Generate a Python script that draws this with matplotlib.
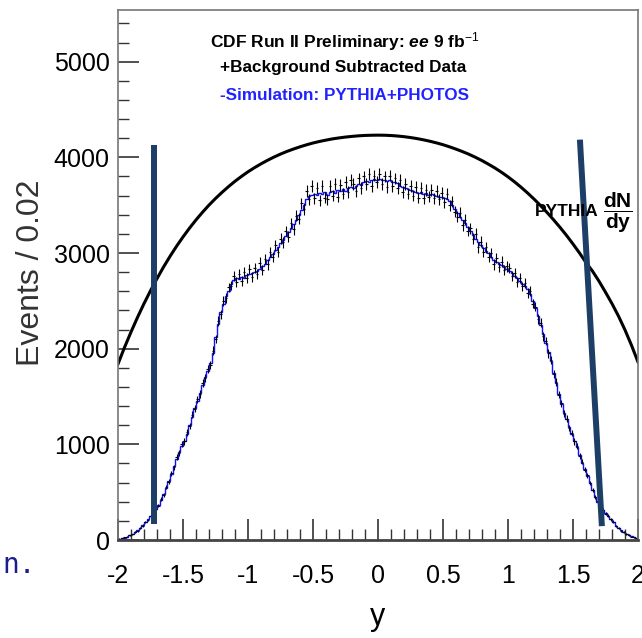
import numpy as np
import matplotlib
matplotlib.use("Agg")
import matplotlib.pyplot as plt
from matplotlib.ticker import MultipleLocator

plt.rcParams['font.family'] = ['Liberation Sans', 'DejaVu Sans']
plt.rcParams['mathtext.fontset'] = 'custom'
plt.rcParams['mathtext.rm'] = 'Liberation Sans'
plt.rcParams['mathtext.bf'] = 'Liberation Sans:bold'
plt.rcParams['mathtext.it'] = 'Liberation Sans:italic:bold'

# 200 bins of width 0.02 between -2 and 2
edges = np.linspace(-2.0, 2.0, 201)
centers = 0.5 * (edges[:-1] + edges[1:])

# simulation (blue histogram)
sim = [12, 18, 25, 35, 48, 62, 80, 100, 125, 155,
       185, 215, 248, 282, 320, 365, 420, 480, 545, 615,
       690, 775, 850, 920, 985, 1040, 1110, 1200, 1290, 1380,
       1450, 1540, 1620, 1700, 1770, 1850, 1950, 2120, 2260, 2380,
       2470, 2550, 2600, 2680, 2720, 2740, 2730, 2750, 2740, 2770,
       2780, 2790, 2800, 2810, 2830, 2860, 2890, 2930, 2960, 2990,
       3030, 3060, 3100, 3140, 3180, 3220, 3260, 3300, 3340, 3400,
       3450, 3500, 3560, 3600, 3610, 3620, 3610, 3630, 3620, 3640,
       3610, 3640, 3650, 3630, 3660, 3650, 3670, 3650, 3680, 3690,
       3680, 3700, 3720, 3710, 3740, 3750, 3740, 3760, 3770, 3760,
       3770, 3760, 3765, 3750, 3760, 3740, 3745, 3730, 3700, 3690,
       3680, 3670, 3660, 3650, 3640, 3630, 3640, 3620, 3630, 3610,
       3620, 3610, 3600, 3590, 3590, 3570, 3565, 3540, 3500, 3460,
       3420, 3380, 3350, 3310, 3270, 3230, 3190, 3150, 3110, 3080,
       3050, 3020, 2995, 2960, 2930, 2910, 2880, 2870, 2850, 2830,
       2810, 2790, 2760, 2740, 2710, 2680, 2650, 2620, 2570, 2500,
       2420, 2340, 2250, 2150, 2060, 1970, 1870, 1750, 1640, 1530,
       1420, 1330, 1260, 1180, 1110, 1040, 970, 890, 810, 740,
       670, 600, 520, 450, 400, 350, 315, 280, 250, 220,
       190, 150, 125, 100, 80, 65, 50, 38, 28, 18]

# background subtracted data (black points)
data = [14, 16, 28, 33, 50, 60, 84, 97, 128, 150,
        190, 210, 255, 278, 328, 360, 430, 470, 555, 610,
        700, 760, 865, 910, 1000, 1030, 1125, 1190, 1310, 1370,
        1470, 1525, 1640, 1690, 1790, 1830, 1980, 2100, 2290, 2360,
        2500, 2530, 2640, 2660, 2760, 2700, 2780, 2710, 2800, 2740,
        2830, 2750, 2840, 2780, 2900, 2820, 2940, 2880, 3010, 2960,
        3080, 3010, 3150, 3110, 3230, 3170, 3310, 3250, 3390, 3360,
        3520, 3460, 3650, 3560, 3700, 3570, 3680, 3550, 3700, 3580,
        3560, 3700, 3600, 3720, 3590, 3710, 3620, 3740, 3640, 3760,
        3720, 3650, 3780, 3680, 3800, 3720, 3830, 3700, 3810, 3740,
        3830, 3720, 3800, 3690, 3810, 3700, 3780, 3680, 3760, 3640,
        3720, 3620, 3700, 3600, 3690, 3580, 3680, 3570, 3660, 3590,
        3660, 3570, 3650, 3560, 3630, 3530, 3620, 3500, 3540, 3430,
        3380, 3420, 3290, 3350, 3230, 3260, 3150, 3200, 3060, 3120,
        3010, 3060, 2960, 3000, 2880, 2950, 2850, 2910, 2820, 2860,
        2840, 2760, 2790, 2700, 2740, 2650, 2690, 2580, 2600, 2470,
        2440, 2310, 2270, 2130, 2080, 1950, 1880, 1740, 1650, 1520,
        1430, 1320, 1270, 1170, 1120, 1030, 980, 880, 820, 735,
        675, 595, 525, 445, 405, 345, 318, 276, 252, 216,
        192, 148, 127, 98, 82, 63, 52, 36, 29, 17]

# PYTHIA dN/dy curve, read every 0.05 in y
py_y = np.round(np.arange(-2.0, 2.001, 0.05), 2)
py_val = [1840, 2013, 2174, 2327, 2471, 2606, 2733, 2853, 2965, 3070,
          3168, 3260, 3346, 3426, 3501, 3570, 3634, 3694, 3750, 3801,
          3849, 3892, 3932, 3969, 4003, 4034, 4062, 4087, 4110, 4131,
          4150, 4166, 4180, 4193, 4203, 4212, 4219, 4225, 4229, 4231,
          4232,
          4231, 4228, 4223, 4216, 4207, 4196, 4183, 4168, 4151, 4132,
          4110, 4086, 4060, 4032, 4000, 3966, 3928, 3888, 3844, 3796,
          3744, 3688, 3628, 3564, 3496, 3424, 3348, 3268, 3184, 3094,
          3000, 2900, 2810, 2705, 2590, 2470, 2340, 2195, 2035, 1860]

# hand drawn marker lines (x, value) end points
left_line = ([-1.72, -1.72], [4130, 170])
right_line = ([1.553, 1.722], [4185, 145])

data = np.array(data, dtype=float)

fig = plt.figure(figsize=(6.42, 6.38), dpi=100)
ax = fig.add_axes([0.1838, 0.1536, 0.81, 0.8307])

ax.plot(py_y, py_val, color='black', lw=2.2, solid_joinstyle='round')
ax.errorbar(centers, data, yerr=np.sqrt(data), xerr=0.01, fmt='none',
            ecolor='black', elinewidth=0.8, capsize=0)
ax.stairs(sim, edges, color='#1010ff', lw=1.0)

ax.plot(*left_line, color='#1d3e66', lw=4.3, solid_capstyle='butt')
ax.plot(*right_line, color='#1d3e66', lw=4.3, solid_capstyle='butt')

ax.set_xlim(-2, 2)
ax.set_ylim(0, 5540)
ax.xaxis.set_minor_locator(MultipleLocator(0.1))
ax.yaxis.set_major_locator(MultipleLocator(1000))
ax.yaxis.set_minor_locator(MultipleLocator(200))
ax.tick_params(which='both', direction='in', top=False, right=False, color='#333333')
ax.tick_params(which='major', length=15, width=1.2, labelsize=18)
ax.tick_params(which='minor', length=8, width=1.0)
ax.tick_params(axis='x', which='major', pad=17)
ax.tick_params(axis='y', which='major', pad=6)
ax.set_xticks([-2, -1.5, -1, -0.5, 0, 0.5, 1, 1.5, 2])
ax.set_xticklabels(['-2', '-1.5', '-1', '-0.5', '0', '0.5', '1', '1.5', '2'])
for s in ax.spines.values():
    s.set_color('#777777')
    s.set_linewidth(1.2)
ax.spines['bottom'].set_color('#444444')
ax.spines['bottom'].set_linewidth(2)

ax.set_ylabel('Events / 0.02', fontsize=23, color='#333333')
ax.yaxis.set_label_coords(-0.138, 0.505)
ax.set_xlabel('y', fontsize=22, labelpad=10)

ax.text(0.177, 0.94, r'CDF Run II Preliminary: $\mathit{ee}$ 9 fb$^{-1}$', transform=ax.transAxes,
        fontsize=12.5, fontweight='bold', va='center', ha='left')
ax.text(0.196, 0.891, '+Background Subtracted Data', transform=ax.transAxes,
        fontsize=12.3, fontweight='bold', va='center', ha='left')
ax.text(0.196, 0.838, '-Simulation: PYTHIA+PHOTOS', transform=ax.transAxes,
        fontsize=12.3, fontweight='bold', va='center', ha='left', color='#2222ff')
ax.text(0.802, 0.62, 'PYTHIA', transform=ax.transAxes,
        fontsize=12.5, fontweight='bold', va='center', ha='left')
ax.text(0.932, 0.617, r'$\mathbf{\dfrac{dN}{dy}}$', transform=ax.transAxes,
        fontsize=15, va='center', ha='left')

fig.text(0.003, 0.102, 'n.', fontsize=20, family=['DejaVu Sans Mono'], color='#1c1c8c',
         va='baseline', ha='left')

fig.savefig('out.png', dpi=100)
